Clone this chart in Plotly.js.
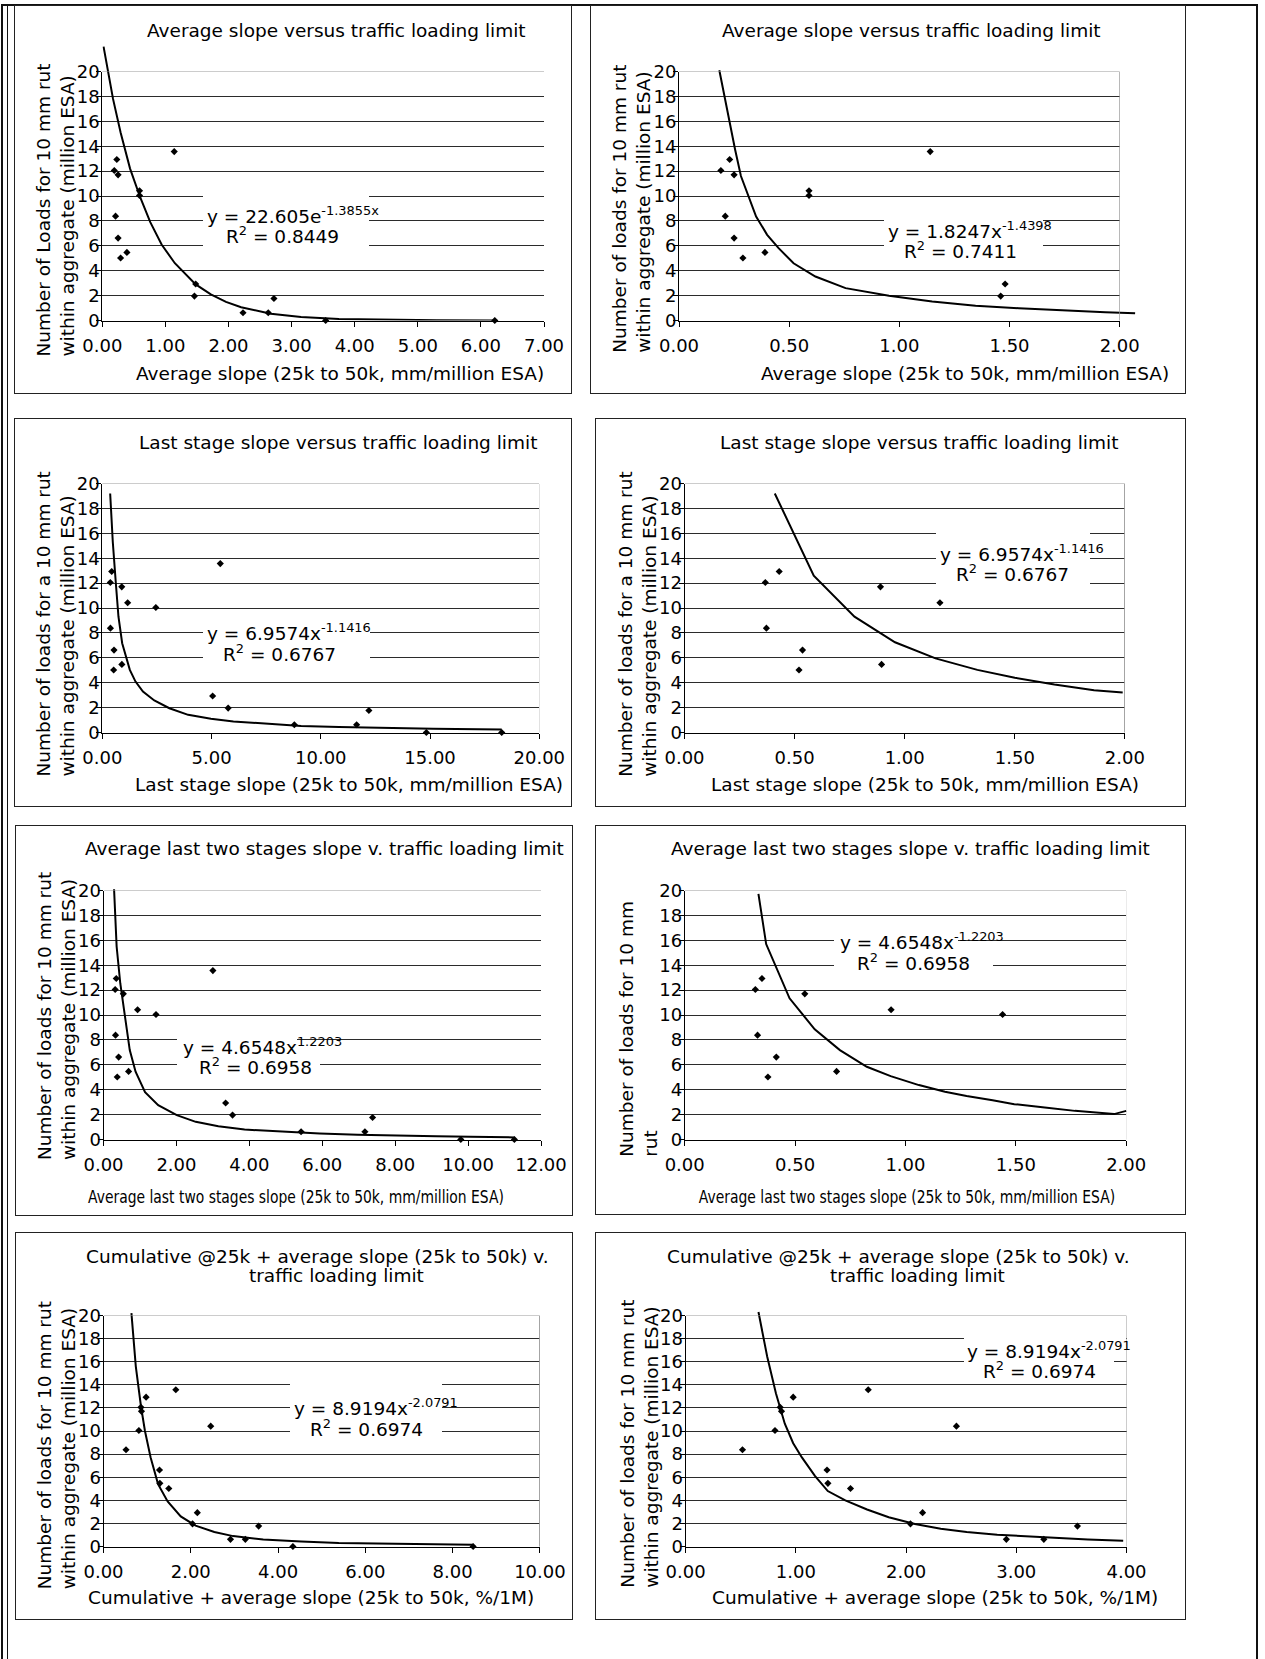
<!DOCTYPE html>
<html>
<head>
<meta charset="utf-8">
<script src="https://cdn.plot.ly/plotly-3.0.1.min.js"></script>
<style>
  body { margin: 0; background: #fff; }
  #chart { width: 1265px; height: 1659px; }
  .shapelayer path { shape-rendering: crispEdges !important; }
</style>
</head>
<body>
<div id="chart"></div>
<script>
// Traffic loading limit of each test section (million ESA for a 10 mm rut)
const loads = [12.05, 12.93, 11.7, 8.38, 6.62, 5.02, 5.47, 10.42, 10.04, 13.57, 2.93, 1.96, 0.62, 0.62, 1.77, 0, 0];

// Slope measures for the same sections
const avgSlope       = [0.19, 0.23, 0.25, 0.21, 0.25, 0.29, 0.39, 0.59, 0.59, 1.14, 1.48, 1.46, 2.23, 2.63, 2.72, 3.54, 6.22];
const lastStageSlope = [0.367, 0.43, 0.89, 0.372, 0.536, 0.52, 0.895, 1.16, 2.45, 5.40, 5.05, 5.76, 8.79, 11.64, 12.2, 14.83, 18.28];
const lastTwoSlope   = [0.32, 0.35, 0.544, 0.33, 0.415, 0.377, 0.688, 0.935, 1.44, 3.0, 3.35, 3.54, 5.42, 7.17, 7.38, 9.8, 11.27];
const cumAvgSlope    = [0.858, 0.976, 0.87, 0.516, 1.283, 1.496, 1.291, 2.457, 0.811, 1.657, 2.15, 2.04, 2.91, 3.25, 3.555, 4.34, 8.47];

// Trendline vertices as plotted in each chart
const fitAvgExpX  = [0.02, 0.17, 0.29, 0.44, 0.6, 0.76, 0.94, 1.15, 1.48, 1.72, 1.96, 2.2, 2.67, 3.15, 3.75, 4.5, 5.3, 6.22];
const fitAvgExpY  = [22.0, 17.8, 15.1, 12.2, 9.9, 7.9, 6.1, 4.6, 2.9, 2.1, 1.5, 1.07, 0.55, 0.28, 0.13, 0.05, 0.02, 0.0];
const fitAvgPowX  = [0.183, 0.206, 0.232, 0.255, 0.281, 0.314, 0.35, 0.40, 0.452, 0.52, 0.619, 0.756, 0.953, 1.149, 1.346, 1.542, 1.739, 1.935, 2.07];
const fitAvgPowY  = [20.1, 18.0, 15.6, 13.7, 11.6, 9.96, 8.35, 6.88, 5.81, 4.6, 3.53, 2.6, 1.98, 1.53, 1.18, 0.99, 0.8, 0.67, 0.59];
const fitLastX    = [0.36, 0.48, 0.62, 0.74, 0.91, 1.09, 1.26, 1.52, 1.86, 2.38, 3.07, 3.93, 4.97, 6.0, 7.38, 9.1, 10.83, 12.55, 15.14, 18.28];
const fitLastY    = [19.2, 15.3, 11.98, 9.3, 7.17, 5.96, 5.03, 4.09, 3.29, 2.57, 1.95, 1.42, 1.1, 0.88, 0.7, 0.53, 0.45, 0.37, 0.3, 0.25];
const fitLastZX   = [0.41, 0.587, 0.772, 0.956, 1.14, 1.33, 1.5, 1.68, 1.86, 1.99];
const fitLastZY   = [19.2, 12.6, 9.3, 7.25, 5.95, 5.03, 4.4, 3.85, 3.4, 3.22];
const fitTwoX     = [0.29, 0.36, 0.46, 0.57, 0.72, 0.88, 1.14, 1.5, 2.01, 2.53, 3.15, 3.87, 4.9, 5.93, 6.97, 8.0, 9.13, 10.06, 11.27];
const fitTwoY     = [20.1, 15.5, 12.55, 10.13, 7.18, 5.44, 3.8, 2.76, 1.96, 1.42, 1.07, 0.8, 0.62, 0.48, 0.38, 0.3, 0.27, 0.22, 0.17];
const fitTwoZX    = [0.334, 0.369, 0.475, 0.589, 0.703, 0.825, 0.933, 1.061, 1.179, 1.277, 1.395, 1.493, 1.631, 1.768, 1.945, 2.0];
const fitTwoZY    = [19.73, 15.7, 11.34, 8.85, 7.18, 5.84, 5.09, 4.37, 3.83, 3.49, 3.16, 2.84, 2.57, 2.3, 2.04, 2.3];
const fitCumX     = [0.64, 0.74, 0.86, 0.95, 1.08, 1.25, 1.47, 1.77, 2.11, 2.54, 2.97, 3.66, 4.53, 5.39, 6.25, 7.11, 8.47];
const fitCumY     = [20.2, 15.6, 12.1, 10.0, 7.7, 5.4, 3.9, 2.6, 1.8, 1.25, 0.9, 0.6, 0.44, 0.3, 0.26, 0.23, 0.15];
const fitCumZX    = [0.661, 0.74, 0.82, 0.9, 0.976, 1.055, 1.173, 1.29, 1.449, 1.646, 1.843, 2.08, 2.315, 2.55, 2.827, 3.1, 3.417, 3.65, 3.97];
const fitCumZY    = [20.3, 16.45, 13.25, 10.63, 8.94, 7.71, 6.11, 4.8, 3.99, 3.2, 2.53, 1.95, 1.54, 1.25, 1.02, 0.87, 0.73, 0.6, 0.49];

// Text
const titleAvg  = 'Average slope versus traffic loading limit';
const titleLast = 'Last stage slope versus traffic loading limit';
const titleTwo  = 'Average last two stages slope v. traffic loading limit';
const titleCum1 = 'Cumulative @25k + average slope (25k to 50k) v.';
const titleCum2 = 'traffic loading limit';
const xAvg  = 'Average slope (25k to 50k, mm/million ESA)';
const xLast = 'Last stage slope (25k to 50k, mm/million ESA)';
const xTwo  = 'Average last two stages slope (25k to 50k, mm/million ESA)';
const xCum  = 'Cumulative + average slope (25k to 50k, %/1M)';
const yLoadsCap = 'Number of Loads for 10 mm rut<br>within aggregate (million ESA)';
const yLoads    = 'Number of loads for 10 mm rut<br>within aggregate (million ESA)';
const yLoadsA   = 'Number of loads for a 10 mm rut<br>within aggregate (million ESA)';
const yLoadsShort = 'Number of loads for 10 mm<br>rut';

// ---------- page geometry (pixels) ----------
const W = 1265, H = 1659;
const FONT = 'DejaVu Sans, Verdana, sans-serif';
const FS = 18.5, TICK_FS = 18;
const DESC = 0.236 * FS;
const px = v => v / W;
const py = v => 1 - v / H;

const panels = [
  { box: [14.5, 5, 571.7, 393.3], plot: [102.3, 71.5, 544, 320.5], xmax: 7, dtick: 1,
    xs: avgSlope, fx: fitAvgExpX, fy: fitAvgExpY, clip: false,
    titles: [[titleAvg, 336.7, 36.5, 'center']], xt: [xAvg, 340, 379.3], yt: [yLoadsCap, 356.7],
    eq: [['y = 22.605e<sup>-1.3855x</sup>', 206.9, 222.7], ['R<sup>2</sup> = 0.8449', 225.7, 242.7]],
    eqBoxes: [[203, 194, 369, 248]] },
  { box: [590, 5, 1185.7, 393.3], plot: [679, 71.5, 1119.7, 320.5], xmax: 2, dtick: 0.5,
    xs: avgSlope, fx: fitAvgPowX, fy: fitAvgPowY, clip: true,
    titles: [[titleAvg, 911.8, 36.5, 'center']], xt: [xAvg, 964.5, 379.3], yt: [yLoads, 352.7],
    eq: [['y = 1.8247x<sup>-1.4398</sup>', 887.7, 237.3], ['R<sup>2</sup> = 0.7411', 903.7, 257.7]],
    eqBoxes: [[884, 218, 1043, 262]] },
  { box: [14.5, 418.3, 571.7, 806.7], plot: [102.3, 483.5, 539.3, 732.5], xmax: 20, dtick: 5,
    xs: lastStageSlope, fx: fitLastX, fy: fitLastY, clip: false,
    titles: [[titleLast, 337.5, 449, 'center']], xt: [xLast, 349, 791], yt: [yLoadsA, 776.7],
    eq: [['y = 6.9574x<sup>-1.1416</sup>', 207, 639.3], ['R<sup>2</sup> = 0.6767', 223, 660.7]],
    eqBoxes: [[203, 624, 369.5, 668]] },
  { box: [595.7, 418.3, 1185.7, 806.7], plot: [684.5, 483.5, 1124.9, 732.5], xmax: 2, dtick: 0.5,
    xs: lastStageSlope, fx: fitLastZX, fy: fitLastZY, clip: true,
    titles: [[titleLast, 918.9, 449, 'center']], xt: [xLast, 925, 790.5], yt: [yLoadsA, 776.7],
    eq: [['y = 6.9574x<sup>-1.1416</sup>', 939.7, 560.7], ['R<sup>2</sup> = 0.6767', 955.8, 580.7]],
    eqBoxes: [[936.3, 530, 1090.2, 586]] },
  { box: [15, 825, 572.6, 1215], plot: [103.5, 890.5, 541, 1139.5], xmax: 12, dtick: 2,
    xs: lastTwoSlope, fx: fitTwoX, fy: fitTwoY, clip: false,
    titles: [[titleTwo, 85, 854.3, 'left']], xt: [xTwo, 296.3, 1202.7, 415.8], yt: [yLoads, 1160.5],
    eq: [['y = 4.6548x<sup>1.2203</sup>', 183.2, 1053.3], ['R<sup>2</sup> = 0.6958', 199.4, 1073.3]],
    eqBoxes: [[177, 1037, 297, 1044], [177, 1044, 320, 1078]] },
  { box: [595.8, 825, 1185.7, 1214.3], plot: [684.7, 890.5, 1126.2, 1139.5], xmax: 2, dtick: 0.5,
    xs: lastTwoSlope, fx: fitTwoZX, fy: fitTwoZY, clip: true,
    titles: [[titleTwo, 910.7, 854.3, 'center']], xt: [xTwo, 906.8, 1202.7, 416.3], yt: [yLoadsShort, 1157],
    eq: [['y = 4.6548x<sup>-1.2203</sup>', 840, 948.3], ['R<sup>2</sup> = 0.6958', 857.3, 970]],
    eqBoxes: [[834.4, 937, 958, 944], [834.4, 944, 992.6, 978]] },
  { box: [15, 1232, 572.6, 1619.3], plot: [103.5, 1315.5, 539.9, 1546.5], xmax: 10, dtick: 2,
    xs: cumAvgSlope, fx: fitCumX, fy: fitCumY, clip: false,
    titles: [[titleCum1, 317, 1262.3, 'center'], [titleCum2, 336.4, 1282, 'center']],
    xt: [xCum, 311, 1604], yt: [yLoads, 1589.7],
    eq: [['y = 8.9194x<sup>-2.0791</sup>', 293.5, 1414.7], ['R<sup>2</sup> = 0.6974', 310.4, 1435.3]],
    eqBoxes: [[290.4, 1382, 442, 1447]] },
  { box: [595.8, 1232, 1185.7, 1619.3], plot: [685.6, 1315.5, 1126.5, 1546.5], xmax: 4, dtick: 1,
    xs: cumAvgSlope, fx: fitCumZX, fy: fitCumZY, clip: true,
    titles: [[titleCum1, 898.5, 1262.3, 'center'], [titleCum2, 917.8, 1282, 'center']],
    xt: [xCum, 934.8, 1604], yt: [yLoads, 1588],
    eq: [['y = 8.9194x<sup>-2.0791</sup>', 966.6, 1357.3], ['R<sup>2</sup> = 0.6974', 983, 1378]],
    eqBoxes: [[963.6, 1334, 1125.5, 1345], [963.6, 1345, 1114, 1381]] }
];

const layout = {
  width: W, height: H,
  margin: { l: 0, r: 0, t: 0, b: 0, pad: 0 },
  paper_bgcolor: '#fff', plot_bgcolor: 'rgba(0,0,0,0)',
  showlegend: false, hovermode: false,
  font: { family: FONT, size: FS, color: '#000' },
  shapes: [], annotations: []
};
const traces = [];
const squeeze = [];

const axId = (letter, n) => n === 1 ? letter : letter + n;
const axKey = (letter, n) => (n === 1 ? letter + 'axis' : letter + 'axis' + n);

function textAnn(text, x, base, anchor) {
  return {
    xref: 'paper', yref: 'paper', x: px(x), y: py(base + DESC),
    xanchor: anchor, yanchor: 'bottom', text: text, showarrow: false,
    borderpad: 0, borderwidth: 0, font: { family: FONT, size: FS, color: '#000' }
  };
}

// outer frame
const frameLine = { color: '#111', width: 1.5 };
layout.shapes.push(
  { type: 'line', xref: 'paper', yref: 'paper', x0: px(2), x1: px(2), y0: py(3.5), y1: py(H), line: frameLine },
  { type: 'line', xref: 'paper', yref: 'paper', x0: px(7.3), x1: px(7.3), y0: py(3.5), y1: py(H), line: frameLine },
  { type: 'line', xref: 'paper', yref: 'paper', x0: px(1.5), x1: px(1258.3), y0: py(4.5), y1: py(4.5), line: { color: '#111', width: 2 } },
  { type: 'line', xref: 'paper', yref: 'paper', x0: px(1257.3), x1: px(1257.3), y0: py(3.5), y1: py(H), line: { color: '#111', width: 2 } }
);

panels.forEach((p, i) => {
  const n = i + 1;
  const [L, T, R, B] = p.plot;
  const xa = axId('x', n), ya = axId('y', n);
  const tickStyle = {
    showline: true, linecolor: '#000', linewidth: 1, mirror: false,
    ticks: 'outside', ticklen: 5, tickwidth: 1, tickcolor: '#000',
    zeroline: false, automargin: false, fixedrange: true,
    tickfont: { family: FONT, size: TICK_FS, color: '#000' }
  };
  layout[axKey('x', n)] = Object.assign({}, tickStyle, {
    domain: [px(L), px(R)], anchor: ya, range: [0, p.xmax], showgrid: false,
    tick0: 0, dtick: p.dtick, tickformat: '.2f', ticklabelstandoff: 4
  });
  layout[axKey('y', n)] = Object.assign({}, tickStyle, {
    domain: [py(B), py(T)], anchor: xa, range: [0, 20], tick0: 0, dtick: 2,
    showgrid: true, gridcolor: '#2b2b2b', gridwidth: 1, ticklabelstandoff: -7
  });

  // trendline axes: same scale as the plot, a little room beyond the top/right edge
  const cN = 8 + n, ex = 40;
  layout['xaxis' + cN] = {
    domain: [px(L), px(R + ex)], anchor: 'y' + cN,
    range: [0, p.xmax * (R + ex - L) / (R - L)], visible: false, fixedrange: true
  };
  layout['yaxis' + cN] = {
    domain: [py(B), py(T - ex)], anchor: 'x' + cN,
    range: [0, 20 * (B - T + ex) / (B - T)], visible: false, fixedrange: true
  };

  traces.push({
    type: 'scatter', mode: 'lines', x: p.fx, y: p.fy,
    xaxis: 'x' + cN, yaxis: 'y' + cN,
    line: { color: '#000', width: 2 }, hoverinfo: 'skip'
  });
  traces.push({
    type: 'scatter', mode: 'markers', x: p.xs, y: loads,
    xaxis: xa, yaxis: ya, cliponaxis: p.clip,
    marker: { symbol: 'diamond', size: 5.5, color: '#000' }, hoverinfo: 'skip'
  });

  // chart box
  layout.shapes.push({
    type: 'rect', xref: 'paper', yref: 'paper', layer: 'above',
    x0: px(p.box[0]), x1: px(p.box[2]), y0: py(p.box[3]), y1: py(p.box[1]),
    line: { color: '#222', width: 1 }, fillcolor: 'rgba(0,0,0,0)'
  });
  // grey plot-area border on top and right
  layout.shapes.push(
    { type: 'line', xref: xa, yref: ya, x0: 0, x1: p.xmax, y0: 20, y1: 20, layer: 'above', line: { color: '#9a9a9a', width: 1 } },
    { type: 'line', xref: xa, yref: ya, x0: p.xmax, x1: p.xmax, y0: 0, y1: 20, layer: 'above', line: { color: '#9a9a9a', width: 1 } }
  );
  // white backing of the trendline label
  p.eqBoxes.forEach(b => layout.shapes.push({
    type: 'rect', xref: 'paper', yref: 'paper', layer: 'above',
    x0: px(b[0]), x1: px(b[2]), y0: py(b[3]), y1: py(b[1]),
    line: { width: 0 }, fillcolor: '#fff'
  }));

  // titles
  p.titles.forEach(t => layout.annotations.push(textAnn(t[0], t[1], t[2], t[3])));
  // x-axis title
  layout.annotations.push(textAnn(p.xt[0], p.xt[1], p.xt[2], 'center'));
  if (p.xt[3]) squeeze.push({ idx: layout.annotations.length - 1, width: p.xt[3] });
  // y-axis title (rotated, lines start at the same point)
  const b2 = L - 28.8;
  layout.annotations.push({
    xref: 'paper', yref: 'paper', x: px(b2 + DESC), y: py(p.yt[1]),
    xanchor: 'right', yanchor: 'bottom', align: 'left', textangle: -90,
    text: p.yt[0], showarrow: false, borderpad: 0, borderwidth: 0,
    font: { family: FONT, size: FS, color: '#000' }
  });
  // trendline equation
  p.eq.forEach(e => layout.annotations.push(textAnn(e[0], e[1], e[2], 'left')));
});

Plotly.newPlot('chart', traces, layout, { staticPlot: true, displayModeBar: false }).then(gd => {
  squeeze.forEach(s => {
    const t = gd.querySelector('.annotation[data-index="' + s.idx + '"] .annotation-text');
    if (t) {
      t.setAttribute('textLength', s.width);
      t.setAttribute('lengthAdjust', 'spacingAndGlyphs');
    }
  });
});
</script>
</body>
</html>
